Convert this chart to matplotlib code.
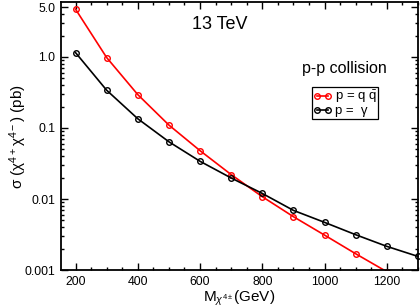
import matplotlib
matplotlib.use("Agg")
import matplotlib.pyplot as plt
from matplotlib.ticker import FixedLocator, NullFormatter, LogLocator, MultipleLocator

plt.rcParams['font.family'] = ['Liberation Sans', 'DejaVu Sans']
plt.rcParams['mathtext.fontset'] = 'custom'
plt.rcParams['mathtext.rm'] = 'Liberation Sans'
plt.rcParams['mathtext.it'] = 'Liberation Sans:italic'
plt.rcParams['mathtext.bf'] = 'Liberation Sans:bold'

mass = [200, 300, 400, 500, 600, 700, 800, 900, 1000, 1100, 1200]
sigma_qq = [4.7, 0.98, 0.295, 0.11, 0.048, 0.0221, 0.0108, 0.00565, 0.00311, 0.0017, 0.00095]
mass_g = [200, 300, 400, 500, 600, 700, 800, 900, 1000, 1100, 1200, 1300]
sigma_gg = [1.15, 0.34, 0.135, 0.064, 0.034, 0.0198, 0.012, 0.00693, 0.0047, 0.00315, 0.00216, 0.00156]
y_ticks = [0.001, 0.01, 0.1, 1.0, 5.0]
y_labels = ['0.001', '0.01', '0.1', '1.0', '5.0']
x_ticks = [200, 400, 600, 800, 1000, 1200]

fig = plt.figure(figsize=(4.2, 3.08), dpi=100)
ax = fig.add_axes([0.145, 0.123, 0.85, 0.870])

ax.plot(mass, sigma_qq, color='#ff0000', lw=1.2, marker='o', ms=4, mfc='none', mew=1.0,
        label=r'p = q $\mathregular{\bar{q}}$', clip_on=True)
ax.plot(mass_g, sigma_gg, color='black', lw=1.2, marker='o', ms=4, mfc='none', mew=1.0,
        label=r'p =  γ', clip_on=False)

ax.set_yscale('log')
ax.set_xlim(153, 1300)
ax.set_ylim(0.001, 5.9)

ax.yaxis.set_major_locator(FixedLocator(y_ticks))
ax.set_yticklabels(y_labels)
ax.yaxis.set_minor_locator(LogLocator(base=10, subs=range(2, 10), numticks=20))
ax.yaxis.set_minor_formatter(NullFormatter())
ax.set_xticks(x_ticks)
ax.xaxis.set_minor_locator(MultipleLocator(50))

ax.tick_params(which='both', direction='in', top=True, right=True, labelsize=8.8, width=1.0, pad=4)
ax.tick_params(which='major', length=5)
ax.tick_params(which='minor', length=2.5)
for s in ax.spines.values():
    s.set_linewidth(1.3)

ax.set_xlabel(r'M$_{\chi^{4\pm}}$(GeV)', fontsize=11, labelpad=1)
ax.set_ylabel(r'σ (χ$^{4+}$χ$^{4-}$) (pb)', fontsize=11)
ax.yaxis.set_label_coords(-0.088, 0.5)

ax.text(0.444, 0.915, '13 TeV', transform=ax.transAxes, ha='center', va='center', fontsize=13)
ax.text(0.795, 0.754, 'p-p collision', transform=ax.transAxes, ha='center', va='center', fontsize=11.5)

leg = ax.legend(loc='upper left', bbox_to_anchor=(0.703, 0.683), fontsize=9.5, numpoints=2,
                handlelength=1.4, handletextpad=0.2, borderpad=0.12, labelspacing=0.0,
                borderaxespad=0, fancybox=False, framealpha=1, edgecolor='black')
leg.get_frame().set_linewidth(0.9)

fig.savefig('out.png', dpi=100)
